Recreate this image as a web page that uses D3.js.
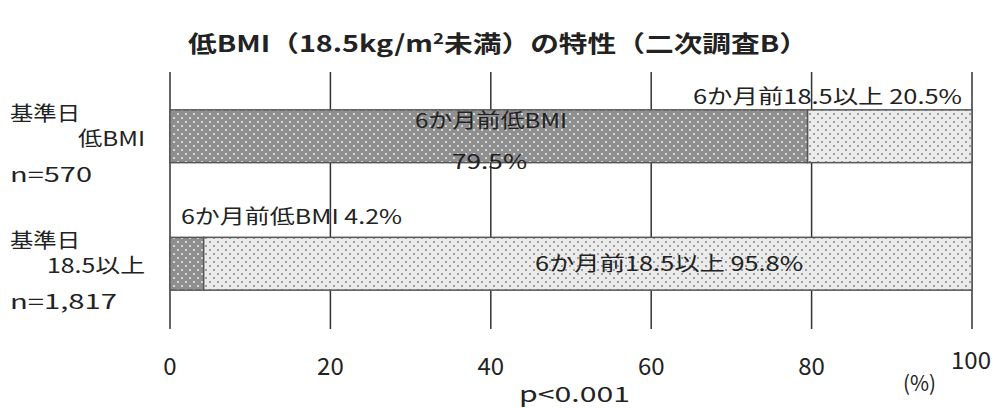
<!DOCTYPE html>
<html><head><meta charset="utf-8">
<script src="https://cdn.jsdelivr.net/npm/d3@7"></script>
<style>
body{margin:0;background:#fff;}
text{font-family:"Noto Sans CJK JP","DejaVu Sans",sans-serif;fill:#222;}
</style></head>
<body><svg id="chart" width="997" height="408"></svg>
<script>
// Distribution of BMI six months earlier, by BMI group on the reference date
const groups = ["基準日低BMI", "基準日18.5以上"];
const lowShare = [79.5, 4.2];     // 6か月前低BMI
const highShare = [20.5, 95.8];   // 6か月前18.5以上
const ticks = [0, 20, 40, 60, 80, 100];

const svg = d3.select("#chart");
const defs = svg.append("defs");

function dotPattern(id, bg, dot) {
  const p = defs.append("pattern").attr("id", id).attr("patternUnits", "userSpaceOnUse")
    .attr("width", 8).attr("height", 8);
  p.append("rect").attr("width", 8).attr("height", 8).attr("fill", bg);
  p.append("rect").attr("x", 1).attr("y", 1).attr("width", 2).attr("height", 2).attr("fill", dot);
  p.append("rect").attr("x", 5).attr("y", 5).attr("width", 2).attr("height", 2).attr("fill", dot);
}
dotPattern("darkDots", "#8f8f8f", "#d6d6d6");
dotPattern("lightDots", "#ebebeb", "#a0a0a0");

const x = d3.scaleLinear().domain([0, 100]).range([170, 972]);
const y = d3.scaleBand().domain(groups).range([72, 328]).paddingInner(0.586).paddingOuter(0.297);

// wide label text: glyphs are stretched horizontally to a set width
function label(g, txt, xPos, yPos, size, width, anchor) {
  return g.append("text").attr("x", xPos).attr("y", yPos)
    .attr("text-anchor", anchor || "start").style("font-size", size + "px")
    .attr("textLength", width).attr("lengthAdjust", "spacingAndGlyphs").text(txt);
}

// title
svg.append("text").attr("x", 188).attr("y", 52)
  .style("font-size", "23px").style("font-weight", "bold")
  .attr("textLength", 620).attr("lengthAdjust", "spacingAndGlyphs")
  .html('低BMI（18.5kg/m<tspan dy="-8" style="font-size:15px">2</tspan><tspan dy="8">未満）の特性（二次調査B）</tspan>');

// vertical gridlines
svg.append("g").selectAll("line").data(ticks).join("line")
  .attr("x1", d => x(d)).attr("x2", d => x(d))
  .attr("y1", 72).attr("y2", 329)
  .attr("stroke", "#333").attr("stroke-width", 1.5);

// bars
const rows = groups.map((g, i) => ({g, low: lowShare[i], high: highShare[i]}));
const bars = svg.append("g");
bars.selectAll("rect.low").data(rows).join("rect").attr("class", "low")
  .attr("x", x(0)).attr("y", d => y(d.g)).attr("width", d => x(d.low) - x(0))
  .attr("height", y.bandwidth()).attr("fill", "url(#darkDots)")
  .attr("stroke", "#555").attr("stroke-width", 1.5);
bars.selectAll("rect.high").data(rows).join("rect").attr("class", "high")
  .attr("x", d => x(d.low)).attr("y", d => y(d.g)).attr("width", d => x(d.low + d.high) - x(d.low))
  .attr("height", y.bandwidth()).attr("fill", "url(#lightDots)")
  .attr("stroke", "#555").attr("stroke-width", 1.5);

// value labels
const fs = 20;
const y0 = y(groups[0]), y1 = y(groups[1]), bw = y.bandwidth();
const g = svg.append("g");
label(g, `6か月前18.5以上 ${highShare[0]}%`, 693, y0 - 6, fs, 269);
label(g, "6か月前低BMI", 415, y0 + 18, fs, 152);
label(g, `${lowShare[0]}%`, 452, y0 + bw + 6, fs, 75);
label(g, `6か月前低BMI ${lowShare[1]}%`, 181, y1 - 13, fs, 221);
label(g, `6か月前18.5以上 ${highShare[1]}%`, 535, y1 + bw / 2 + 7, fs, 268);

// category labels
const catLines = [["基準日", "低BMI", "n=570"], ["基準日", "18.5以上", "n=1,817"]];
const catWidths = [[70, 67, 82], [70, 98, 107]];
groups.forEach((grp, i) => {
  const top = y(grp);
  const [a, b, c] = catLines[i];
  const [wa, wb, wc] = catWidths[i];
  label(g, a, 10, top + 11, fs, wa);
  label(g, b, 145 - wb, top + 36, fs, wb);
  label(g, c, 10, top + 72, fs, wc);
});

// x axis tick labels
svg.append("g").selectAll("text").data(ticks).join("text")
  .attr("x", d => d === 100 ? x(d) - 1 : x(d)).attr("y", d => d === 100 ? 369 : 375)
  .attr("text-anchor", "middle").style("font-size", "24px").text(d => d);
label(svg, "(%)", 903, 391, 21, 33);
label(svg, "p<0.001", 519, 402, 21, 111);
</script></body></html>
